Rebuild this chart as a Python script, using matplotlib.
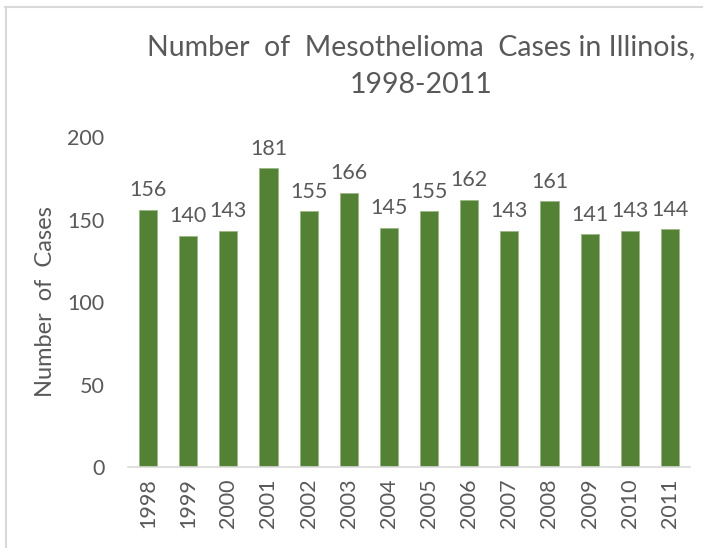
import matplotlib.pyplot as plt
from matplotlib.lines import Line2D

plt.rcParams['font.family'] = ['Lato', 'DejaVu Sans']

years = ['1998', '1999', '2000', '2001', '2002', '2003', '2004',
         '2005', '2006', '2007', '2008', '2009', '2010', '2011']
cases = [156, 140, 143, 181, 155, 166, 145, 155, 162, 143, 161, 141, 143, 144]

TEXT = '#595959'
GREEN = '#548235'

fig = plt.figure(figsize=(7.06, 5.48), dpi=100)
ax = fig.add_axes([0.1813, 0.1478, 0.796, 0.602])

x = range(len(years))
bars = ax.bar(x, cases, width=0.45, color=GREEN, edgecolor='#9db885', linewidth=0.6)

for xi, v in zip(x, cases):
    ax.annotate(str(v), (xi, v), xytext=(0, 7), textcoords='offset points',
                ha='center', va='bottom', fontsize=15.5, color=TEXT)

ax.set_xlim(-0.5, len(years) - 0.5)
ax.set_ylim(0, 200)
ax.set_yticks([0, 50, 100, 150, 200])
ax.set_xticks(list(x))
ax.set_xticklabels(years, rotation=90)
ax.tick_params(axis='both', length=0, labelsize=15.5, colors=TEXT)
ax.tick_params(axis='y', pad=17)
ax.tick_params(axis='x', pad=8)

for side in ['top', 'right', 'left']:
    ax.spines[side].set_visible(False)
ax.spines['bottom'].set_color('#d9d9d9')
ax.spines['bottom'].set_linewidth(1.2)

ax.set_ylabel('Number  of  Cases', fontsize=17, color=TEXT, labelpad=8)

fig.text(0.597, 0.938, 'Number  of  Mesothelioma  Cases in Illinois,\n1998-2011',
         ha='center', va='top', fontsize=20.5, color=TEXT,
         linespacing=1.55)

# chart frame (top and left edges only)
fig.add_artist(Line2D([0.007, 0.995], [0.988, 0.988], transform=fig.transFigure,
                      color='#d9d9d9', linewidth=1.5))
fig.add_artist(Line2D([0.008, 0.008], [0.0, 0.988], transform=fig.transFigure,
                      color='#d9d9d9', linewidth=1.5))

fig.savefig('out.png', dpi=100)
